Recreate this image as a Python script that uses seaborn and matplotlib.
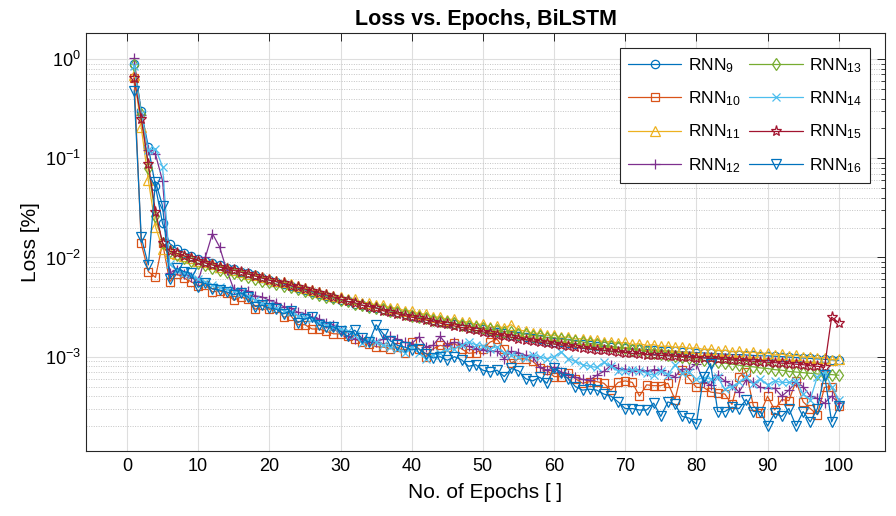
import matplotlib
matplotlib.use("Agg")
import matplotlib.pyplot as plt
import numpy as np
import pandas as pd
import seaborn as sns
from matplotlib.ticker import LogLocator, NullFormatter, FixedLocator

epochs = list(range(1, 101))

rnn9 = [
0.90, 0.30, 0.13, 0.052, 0.022, 0.0138, 0.0122, 0.0112, 0.0104, 0.0097,
0.0092, 0.0087, 0.0083, 0.0079, 0.0076, 0.0072, 0.0069, 0.0066, 0.0062, 0.0059,
0.0057, 0.0054, 0.0052, 0.0049, 0.0047, 0.0045, 0.0043, 0.0041, 0.0039, 0.0037,
0.0036, 0.0034, 0.0033, 0.0032, 0.0031, 0.0030, 0.0029, 0.0028, 0.0027, 0.0026,
0.0025, 0.00243, 0.00235, 0.00228, 0.00221, 0.00214, 0.00207, 0.0020, 0.00194, 0.00188,
0.00182, 0.00177, 0.00172, 0.00167, 0.00162, 0.00157, 0.00153, 0.00149, 0.00145, 0.00142,
0.00139, 0.00137, 0.00135, 0.00133, 0.00131, 0.00129, 0.00127, 0.00125, 0.00124, 0.00122,
0.0012, 0.00119, 0.00118, 0.00116, 0.00115, 0.00114, 0.00113, 0.00112, 0.00111, 0.0011,
0.00109, 0.00108, 0.00107, 0.00106, 0.00105, 0.00105, 0.00104, 0.00103, 0.00102, 0.00102,
0.00101, 0.0010, 0.00099, 0.00098, 0.00097, 0.00096, 0.00095, 0.00094, 0.00093, 0.00092]

rnn10 = [
0.65, 0.0139, 0.0072, 0.0063, 0.014, 0.0057, 0.0068, 0.0062, 0.0057, 0.0052,
0.0053, 0.0045, 0.0046, 0.0044, 0.0037, 0.0040, 0.0038, 0.0030, 0.0033, 0.0030,
0.0031, 0.0025, 0.0026, 0.0021, 0.0021, 0.0019, 0.0019, 0.0018, 0.0017, 0.0017,
0.0016, 0.0015, 0.0014, 0.00135, 0.00126, 0.00125, 0.0012, 0.00125, 0.0011, 0.0014,
0.0012, 0.0010, 0.0012, 0.0013, 0.00125, 0.00136, 0.0012, 0.00108, 0.0011, 0.0012,
0.0014, 0.0015, 0.0012, 0.00086, 0.00095, 0.00095, 0.0009, 0.00077, 0.00073, 0.00063,
0.00063, 0.00068, 0.0006, 0.00054, 0.00056, 0.00056, 0.00054, 0.00046, 0.00055, 0.00057,
0.00055, 0.0004, 0.00052, 0.00051, 0.00051, 0.00054, 0.00037, 0.00073, 0.0006, 0.00049,
0.00049, 0.00044, 0.00043, 0.00042, 0.00033, 0.00063, 0.0007, 0.00032, 0.00027, 0.0004,
0.00029, 0.00037, 0.00036, 0.00057, 0.00035, 0.0003, 0.00026, 0.00049, 0.0005, 0.00032]

rnn11 = [
0.69, 0.205, 0.060, 0.0205, 0.0123, 0.0112, 0.0108, 0.0103, 0.0098, 0.0093,
0.0089, 0.0085, 0.0081, 0.0078, 0.0075, 0.0072, 0.0068, 0.0066, 0.0063, 0.0061,
0.0058, 0.0056, 0.0054, 0.0051, 0.0049, 0.0047, 0.0045, 0.0043, 0.0041, 0.0040,
0.0038, 0.0038, 0.0035, 0.0035, 0.0033, 0.0033, 0.0031, 0.0031, 0.0029, 0.0029,
0.0027, 0.0027, 0.0025, 0.00252, 0.00236, 0.0024, 0.00222, 0.00226, 0.0021, 0.00214,
0.00198, 0.00202, 0.00195, 0.0021, 0.00185, 0.00182, 0.00172, 0.00172, 0.00164, 0.00165,
0.00157, 0.00158, 0.00151, 0.00152, 0.00146, 0.00147, 0.00141, 0.00142, 0.00137, 0.00139,
0.00133, 0.00135, 0.0013, 0.00132, 0.00127, 0.00128, 0.00124, 0.00126, 0.00121, 0.00123,
0.00118, 0.00119, 0.00115, 0.00116, 0.00112, 0.00114, 0.0011, 0.00111, 0.00107, 0.00109,
0.00104, 0.00106, 0.00102, 0.00103, 0.00099, 0.0010, 0.00097, 0.00098, 0.00093, 0.00095]

rnn12 = [
1.02, 0.27, 0.12, 0.11, 0.059, 0.0070, 0.0075, 0.0068, 0.0064, 0.0058,
0.0100, 0.0174, 0.0128, 0.0075, 0.0048, 0.0047, 0.0046, 0.0041, 0.0040, 0.0037,
0.0035, 0.0032, 0.0031, 0.0028, 0.0027, 0.0025, 0.0024, 0.0022, 0.0021, 0.0018,
0.0016, 0.0015, 0.0015, 0.0014, 0.00142, 0.0015, 0.0016, 0.0015, 0.0014, 0.00135,
0.00158, 0.00125, 0.0013, 0.0016, 0.0013, 0.0014, 0.00135, 0.00127, 0.0012, 0.00118,
0.00115, 0.00113, 0.00095, 0.00113, 0.0011, 0.00103, 0.0010, 0.00078, 0.00073, 0.00078,
0.0007, 0.00066, 0.00062, 0.00059, 0.00058, 0.00065, 0.00071, 0.00082, 0.00076, 0.00075,
0.00072, 0.00074, 0.00072, 0.00074, 0.00074, 0.00066, 0.00063, 0.00075, 0.00075, 0.00085,
0.00056, 0.00052, 0.00065, 0.00057, 0.00052, 0.00044, 0.00058, 0.00055, 0.00049, 0.00048,
0.00048, 0.0004, 0.00046, 0.00055, 0.0005, 0.0004, 0.00038, 0.00034, 0.0004, 0.00034]

rnn13 = [
0.88, 0.28, 0.080, 0.026, 0.014, 0.0115, 0.0105, 0.0098, 0.0092, 0.0087,
0.0083, 0.0079, 0.0075, 0.0072, 0.0069, 0.0066, 0.0063, 0.0061, 0.0058, 0.0056,
0.0054, 0.0052, 0.0050, 0.0048, 0.0046, 0.0044, 0.0042, 0.0040, 0.0039, 0.0037,
0.0036, 0.0034, 0.0033, 0.0032, 0.0031, 0.0030, 0.0029, 0.0028, 0.0027, 0.0026,
0.0025, 0.00245, 0.00236, 0.0023, 0.00222, 0.00218, 0.0021, 0.00206, 0.00198, 0.00196,
0.00188, 0.00186, 0.00179, 0.00177, 0.0017, 0.00169, 0.00163, 0.00162, 0.00156, 0.00156,
0.0015, 0.00148, 0.00143, 0.00141, 0.00136, 0.00134, 0.0013, 0.00128, 0.00124, 0.00122,
0.00118, 0.00116, 0.00112, 0.0011, 0.00107, 0.00104, 0.00102, 0.00099, 0.00097, 0.00095,
0.00092, 0.0009, 0.00088, 0.00086, 0.00084, 0.00082, 0.0008, 0.00079, 0.00077, 0.00076,
0.00074, 0.00073, 0.00071, 0.0007, 0.00069, 0.00068, 0.00067, 0.00066, 0.00066, 0.00065]

rnn14 = [
0.85, 0.28, 0.12, 0.125, 0.082, 0.0085, 0.0075, 0.0070, 0.0066, 0.0060,
0.0057, 0.0053, 0.0050, 0.0048, 0.0046, 0.0044, 0.0041, 0.0037, 0.0035, 0.0033,
0.0031, 0.0029, 0.0028, 0.0026, 0.0025, 0.0024, 0.0022, 0.0021, 0.0020, 0.0019,
0.0018, 0.00165, 0.00137, 0.0015, 0.0014, 0.0013, 0.00125, 0.0012, 0.0011, 0.00125,
0.0011, 0.00095, 0.00105, 0.0011, 0.00118, 0.0012, 0.0013, 0.0014, 0.00132, 0.00128,
0.0012, 0.00126, 0.0011, 0.00105, 0.0010, 0.00098, 0.00105, 0.0010, 0.00095, 0.0010,
0.00112, 0.00095, 0.0009, 0.00083, 0.0008, 0.00078, 0.00088, 0.0008, 0.00072, 0.00072,
0.00074, 0.00072, 0.00068, 0.00065, 0.00072, 0.00066, 0.00083, 0.00068, 0.0007, 0.00059,
0.00061, 0.0006, 0.00062, 0.00047, 0.0005, 0.00055, 0.00062, 0.00053, 0.0006, 0.00052,
0.00057, 0.00055, 0.00055, 0.00057, 0.00042, 0.00037, 0.00063, 0.0007, 0.0005, 0.00037]

rnn15 = [
0.64, 0.25, 0.087, 0.029, 0.014, 0.0116, 0.0110, 0.0104, 0.0098, 0.0093,
0.0088, 0.0084, 0.0080, 0.0077, 0.0074, 0.0071, 0.0068, 0.0065, 0.0062, 0.0059,
0.0057, 0.0055, 0.0052, 0.0050, 0.0048, 0.0046, 0.0044, 0.0042, 0.0040, 0.0038,
0.0036, 0.0035, 0.0033, 0.0032, 0.0031, 0.0029, 0.0028, 0.0027, 0.0026, 0.0025,
0.00243, 0.00234, 0.00226, 0.00218, 0.00211, 0.00204, 0.00197, 0.0019, 0.00184, 0.00178,
0.00172, 0.00167, 0.00162, 0.00157, 0.00152, 0.00148, 0.00144, 0.0014, 0.00137, 0.00134,
0.00131, 0.00128, 0.00125, 0.00122, 0.0012, 0.00118, 0.00116, 0.00114, 0.00112, 0.0011,
0.00108, 0.00107, 0.00105, 0.00104, 0.00103, 0.00102, 0.00101, 0.0010, 0.00099, 0.00098,
0.00097, 0.00096, 0.00095, 0.00094, 0.00093, 0.00092, 0.00091, 0.0009, 0.00089, 0.00088,
0.00087, 0.00086, 0.00085, 0.00084, 0.00083, 0.00081, 0.0008, 0.00078, 0.0025, 0.0022]

rnn16 = [
0.48, 0.016, 0.0084, 0.058, 0.033, 0.0060, 0.0078, 0.0072, 0.0069, 0.0050,
0.0055, 0.0048, 0.0047, 0.0045, 0.0042, 0.0044, 0.0040, 0.0032, 0.0033, 0.0031,
0.0030, 0.0027, 0.0029, 0.0022, 0.0024, 0.0025, 0.0021, 0.0020, 0.0020, 0.0018,
0.0016, 0.00185, 0.00153, 0.0014, 0.0021, 0.0017, 0.00145, 0.0013, 0.00125, 0.00117,
0.0012, 0.00107, 0.00097, 0.0010, 0.00092, 0.0010, 0.00093, 0.0008, 0.00083, 0.00073,
0.0007, 0.00073, 0.00063, 0.00076, 0.00072, 0.0006, 0.00057, 0.00062, 0.00054, 0.00076,
0.00068, 0.0006, 0.0005, 0.00046, 0.00047, 0.00046, 0.00042, 0.0004, 0.00035, 0.0003,
0.0003, 0.00029, 0.00029, 0.00034, 0.00025, 0.00035, 0.00033, 0.00025, 0.00024, 0.00021,
0.00063, 0.00085, 0.00028, 0.00028, 0.00031, 0.0003, 0.00037, 0.00028, 0.00028, 0.0002,
0.00027, 0.00025, 0.0003, 0.0002, 0.00028, 0.00022, 0.0003, 0.00066, 0.00022, 0.00032]

series_names = ["RNN9", "RNN10", "RNN11", "RNN12", "RNN13", "RNN14", "RNN15", "RNN16"]
series_labels = ["RNN$_{9}$", "RNN$_{10}$", "RNN$_{11}$", "RNN$_{12}$",
                 "RNN$_{13}$", "RNN$_{14}$", "RNN$_{15}$", "RNN$_{16}$"]
series_values = [rnn9, rnn10, rnn11, rnn12, rnn13, rnn14, rnn15, rnn16]
x_ticks = list(range(0, 101, 10))

colors = ["#0072BD", "#D95319", "#EDB120", "#7E2F8E",
          "#77AC30", "#4DBEEE", "#A2142F", "#0072BD"]
markers = ["o", "s", "^", "+", "d", "x", "*", "v"]
msizes = [6, 5.5, 7, 7, 6, 5.5, 8, 7]

df = pd.concat([pd.DataFrame({"Epoch": epochs, "Loss": v, "Model": n})
                for n, v in zip(series_names, series_values)], ignore_index=True)

sns.set_style("white")
plt.rcParams["font.family"] = ["Liberation Sans", "DejaVu Sans"]
plt.rcParams["mathtext.fontset"] = "custom"
plt.rcParams["mathtext.rm"] = "Liberation Sans"
plt.rcParams["mathtext.it"] = "Liberation Sans:italic"
plt.rcParams["mathtext.bf"] = "Liberation Sans:bold"
plt.rcParams["text.color"] = "black"
plt.rcParams["axes.labelcolor"] = "black"

fig = plt.figure(figsize=(8.96, 5.16), dpi=100)
ax = fig.add_axes([86 / 896, 1 - 451 / 516, (885 - 86) / 896, (451 - 33) / 516])

for name, lab, c, m, ms in zip(series_names, series_labels, colors, markers, msizes):
    sub = df[df["Model"] == name]
    sns.lineplot(data=sub, x="Epoch", y="Loss", ax=ax, color=c, label=lab,
                 marker=m, markersize=ms, markerfacecolor="none",
                 markeredgecolor=c, markeredgewidth=0.9, linewidth=0.9)

ax.set_yscale("log")
ax.set_xlim(-5.76, 106.5)
ax.set_ylim(1.12e-4, 1.83)
ax.set_xticks(x_ticks)
ax.xaxis.set_minor_locator(FixedLocator([]))
ax.yaxis.set_major_locator(LogLocator(base=10, numticks=10))
ax.yaxis.set_minor_locator(LogLocator(base=10, subs=np.arange(2, 10), numticks=20))
ax.yaxis.set_minor_formatter(NullFormatter())

ax.set_axisbelow(True)
ax.grid(which="major", color="#dedede", linewidth=0.8, linestyle="-")
ax.grid(which="minor", axis="y", color="#c4c4c4", linewidth=0.7, linestyle=(0, (1, 1.5)))

for sp in ax.spines.values():
    sp.set_color("#262626")
    sp.set_linewidth(0.8)
ax.tick_params(which="both", direction="in", top=True, right=True, colors="#262626",
               labelcolor="black")
ax.tick_params(which="major", length=5.5, width=0.7, labelsize=13)
ax.tick_params(which="minor", length=3, width=0.6)
ax.tick_params(axis="x", pad=5)

ax.set_xlabel("No. of Epochs [ ]", fontsize=15, labelpad=6, color="black")
ax.set_ylabel("Loss [%]", fontsize=15, color="black")
ax.set_title("Loss vs. Epochs, BiLSTM", fontsize=15.5, fontweight="bold", pad=6,
             color="black")

leg = ax.legend(ncol=2, loc="upper right", bbox_to_anchor=(0.981, 0.964),
                borderaxespad=0,
                fontsize=12.5, handlelength=3.1, handletextpad=0.35,
                columnspacing=0.5, labelspacing=0.85, borderpad=0.45,
                fancybox=False, framealpha=1, edgecolor="#262626", numpoints=1)
leg.get_frame().set_linewidth(0.8)
for t in leg.get_texts():
    t.set_color("black")

fig.savefig("out.png", dpi=100)
